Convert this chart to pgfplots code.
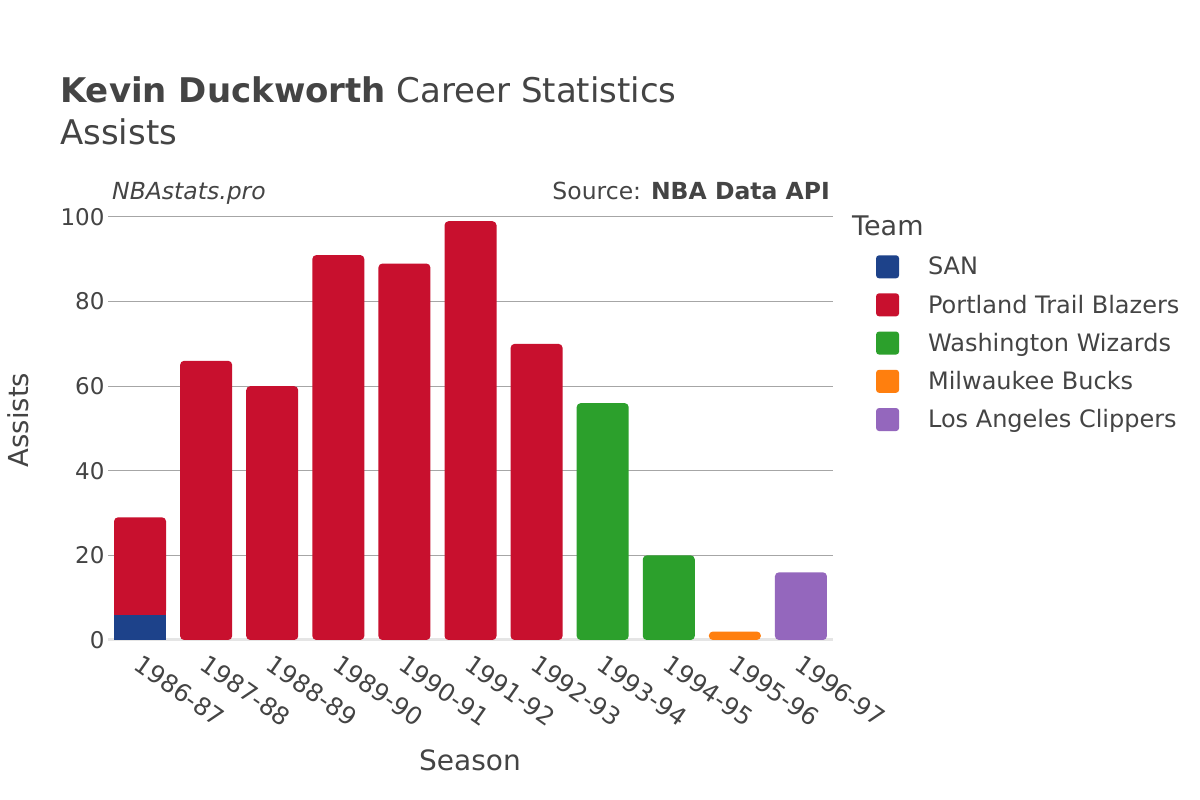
\documentclass[border=0pt]{standalone}
\usepackage{pgfplots}
\pgfplotsset{compat=1.18}
\usepackage{fontspec}
\setmainfont{DejaVu Sans}
\definecolor{txt}{HTML}{444444}
\definecolor{san}{HTML}{1D428A}
\definecolor{por}{HTML}{C8102E}
\definecolor{was}{HTML}{2CA02C}
\definecolor{mil}{HTML}{FF7F0E}
\definecolor{lac}{HTML}{9467BD}
\begin{document}
\begin{tikzpicture}[x=1pt,y=1pt]
\fill[white] (0,0) rectangle (1200,800);
\begin{axis}[
  at={(108pt,160pt)}, anchor=south west,
  scale only axis, width=725pt, height=423pt,
  xmin=-0.485, xmax=10.485, ymin=0, ymax=100,
  ybar stacked, bar width=52pt,
  axis line style={draw=none},
  tick style={draw=none},
  ytick={0,20,40,60,80,100},
  ymajorgrids, grid style={color=black!35, line width=1pt},
  xtick={0,...,10},
  xticklabels={1986-87,1987-88,1988-89,1989-90,1990-91,1991-92,1992-93,1993-94,1994-95,1995-96,1996-97},
  x tick label style={rotate=-35, anchor=north west, font=\fontsize{24.5}{28}\selectfont, text=txt, xshift=7pt, yshift=-6pt},
  y tick label style={font=\fontsize{23}{27}\selectfont, text=txt},
  /pgf/number format/assume math mode=true,
  legend style={at={(1.055,0.915)}, anchor=north west, draw=none, fill=none,
    font=\fontsize{24}{28}\selectfont, text=txt, row sep=14.5pt,
    /tikz/every even column/.append style={column sep=0pt}},
  legend cell align=left,
  legend image code/.code={\fill[#1, draw=none, rounded corners=3pt] (0pt,-11.5pt) rectangle (23pt,11.5pt);},
  clip=false,
]
\addplot[fill=san, draw=none] coordinates {(0,6) (1,0) (2,0) (3,0) (4,0) (5,0) (6,0) (7,0) (8,0) (9,0) (10,0)};
\addplot[fill=por, draw=none, rounded corners=4pt] coordinates {(0,23) (1,66) (2,60) (3,91) (4,89) (5,99) (6,70) (7,0) (8,0) (9,0) (10,0)};
\addplot[fill=was, draw=none, rounded corners=4pt] coordinates {(0,0) (1,0) (2,0) (3,0) (4,0) (5,0) (6,0) (7,56) (8,20) (9,0) (10,0)};
\addplot[fill=mil, draw=none, rounded corners=4pt] coordinates {(0,0) (1,0) (2,0) (3,0) (4,0) (5,0) (6,0) (7,0) (8,0) (9,2) (10,0)};
\addplot[fill=lac, draw=none, rounded corners=4pt] coordinates {(0,0) (1,0) (2,0) (3,0) (4,0) (5,0) (6,0) (7,0) (8,0) (9,0) (10,16)};
\legend{\hspace{27pt}SAN,\hspace{27pt}Portland Trail Blazers,\hspace{27pt}Washington Wizards,\hspace{27pt}Milwaukee Bucks,\hspace{27pt}Los Angeles Clippers}
\draw[black!10, line width=3pt] (axis cs:-0.485,0) -- (axis cs:10.485,0);
\fill[por] (axis cs:-0.3935,6) rectangle (axis cs:0.3935,7.2);
\draw[white, line width=1pt] (axis cs:-0.3935,6) -- (axis cs:0.3935,6);
\end{axis}
\node[inner sep=0, anchor=base west, text=txt, font=\fontsize{34}{40}\selectfont] at (60,697) {\textbf{Kevin Duckworth} Career Statistics};
\node[inner sep=0, anchor=base west, text=txt, font=\fontsize{34}{40}\selectfont] at (60,655) {Assists};
\node[inner sep=0, anchor=base west, text=txt, font=\fontsize{23.5}{27}\itshape] at (112,600) {NBAstats.pro};
\node[inner sep=0, anchor=base east, text=txt, font=\fontsize{23.5}{27}\selectfont] at (830,600) {Source: \textbf{NBA Data API}};
\node[rotate=90, text=txt, font=\fontsize{27.5}{32}\selectfont] at (18,380) {Assists};
\node[text=txt, font=\fontsize{28}{32}\selectfont] at (470,40) {Season};
\node[inner sep=0, anchor=base west, text=txt, font=\fontsize{27}{32}\selectfont] at (852,564) {Team};
\end{tikzpicture}
\end{document}
